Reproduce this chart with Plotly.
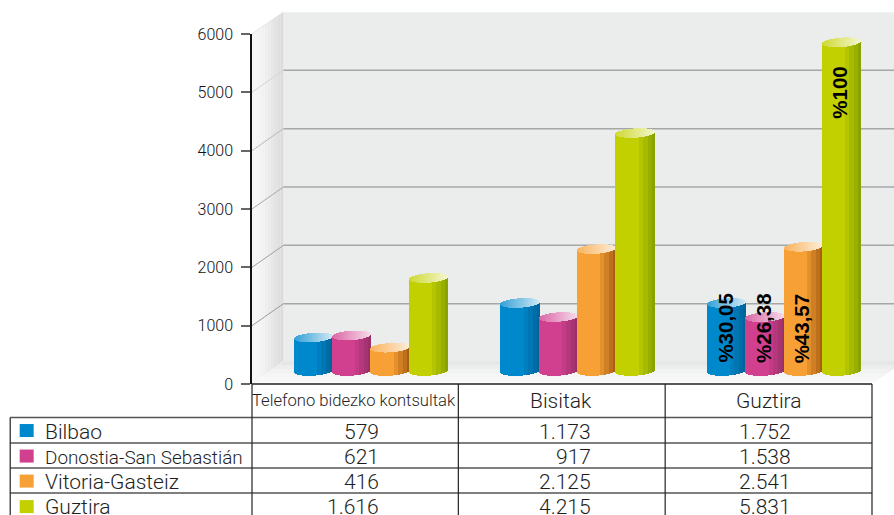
import plotly.graph_objects as go

# Values as drawn by the cylinders (the picture does not follow the table exactly)
CATEGORIES = ["Telefono bidezko kontsultak", "Bisitak", "Guztira"]
SERIES = ["Bilbao", "Donostia-San Sebastián", "Vitoria-Gasteiz", "Guztira"]
BILBAO = [575, 1166, 1166]
DONOSTIA = [610, 925, 925]
VITORIA = [400, 2090, 2130]
GUZTIRA = [1595, 4080, 5635]
VALUES = [BILBAO, DONOSTIA, VITORIA, GUZTIRA]

TABLE_ROWS = [
    ["579", "1.173", "1.752"],
    ["621", "917", "1.538"],
    ["416", "2.125", "2.541"],
    ["1.616", "4.215", "5.831"],
]
PERCENT_LABELS = ["%30,05", "%26,38", "%43,57", "%100"]
PERCENT_Y = [960, 960, 960, 4990]
Y_TICKS = [0, 1000, 2000, 3000, 4000, 5000, 6000]
GRID_LEVELS = [1000, 2000, 3000, 4000, 5000, 6000]
GRID_SIDE_COLORS = ["#9a9a9a", "#a0a0a0", "#a8a8a8", "#b8b8b8", "#d4d4d4", "#e4e4e4"]

BASE_COLORS = ["#0088cc", "#d1408f", "#f7a035", "#c2d000"]
DARK_COLORS = ["#00639a", "#993068", "#a85f14", "#8aa300"]

FONT = "Roboto"
BOLD_FONT = "Liberation Sans"
TEXT = "#1e1e1e"
W, H = 894, 515
LEFT, RIGHT, TOP, BOTTOM = 251.5, 872, 34.3, 384

BAR_W = 0.1857
SHIFT_X = 0.0754
BASE_LIFT = 223      # cylinders stand forward of the axis origin
CAP_RY = 80          # half height of the elliptic ends, in value units
TILT = 22            # ellipses lean up to the right
STRIPS = 38


def px(x):
    return (x - LEFT) / (RIGHT - LEFT)


def py(y):
    return (BOTTOM - y) / (BOTTOM - TOP)


def mix(c1, c2, t):
    a = [int(c1[i:i + 2], 16) for i in (1, 3, 5)]
    b = [int(c2[i:i + 2], 16) for i in (1, 3, 5)]
    return "rgb(%d,%d,%d)" % tuple(round(p + (q - p) * t) for p, q in zip(a, b))


def poly(points, color, layer="below"):
    path = "M" + "L".join(f"{px(x):.5f},{py(y):.5f}" for x, y in points) + "Z"
    return dict(type="path", xref="paper", yref="paper", path=path,
                fillcolor=color, line=dict(width=0), layer=layer)


def line(x0, y0, x1, y1, color, width, layer="above"):
    return dict(type="line", xref="paper", yref="paper",
                x0=px(x0), y0=py(y0), x1=px(x1), y1=py(y1),
                line=dict(color=color, width=width), layer=layer)


def note(x, y, text, size=21, anchor="center"):
    return dict(xref="paper", yref="paper", x=px(x), y=py(y), text=text,
                showarrow=False, xanchor=anchor, yanchor="middle",
                font=dict(family=FONT, size=size, color=TEXT, weight=300))


fig = go.Figure()

# cylinders: each one is a row of thin bars, shaded across its width
for s, series in enumerate(VALUES):
    xs, widths, body_base, body_h, body_col = [], [], [], [], []
    cap_base, cap_h, cap_col = [], [], []
    for g, val in enumerate(series):
        center = g + SHIFT_X + (s - 1.5) * BAR_W
        for k in range(STRIPS):
            u = (k + 0.5) / STRIPS
            r = 2 * u - 1
            e = CAP_RY * (1 - r * r) ** 0.5
            lean = TILT * r
            xs.append(center + (u - 0.5) * BAR_W)
            widths.append(BAR_W / STRIPS * 1.05)
            low = BASE_LIFT - e + lean
            high = BASE_LIFT + val - e + lean
            body_base.append(low)
            body_h.append(high - low)
            t = max(0.0, (u - 0.55) / 0.45)
            body_col.append(mix(BASE_COLORS[s], DARK_COLORS[s], round(t * 4) / 4))
            cap_base.append(high)
            cap_h.append(2 * e)
            cap_col.append(mix(BASE_COLORS[s], "#ffffff", 0.2 + 0.6 * u))
    fig.add_trace(go.Bar(x=xs, y=body_h, base=body_base, width=widths, name=SERIES[s],
                         marker=dict(color=body_col, line=dict(width=0)),
                         hoverinfo="skip", showlegend=False))
    fig.add_trace(go.Bar(x=xs, y=cap_h, base=cap_base, width=widths, name=SERIES[s],
                         marker=dict(color=cap_col, line=dict(width=0)),
                         hoverinfo="skip", showlegend=False))

# walls and floor
shapes = [poly([(283, 12.5), (W, 12.5), (W, 361), (283, 361)], "#ebeded")]
n_side = 10
for i in range(n_side):
    x0 = LEFT + (283 - LEFT) * i / n_side
    x1 = LEFT + (283 - LEFT) * (i + 1) / n_side
    t0 = (x0 - LEFT) / (283 - LEFT)
    t1 = (x1 - LEFT) / (283 - LEFT)
    shapes.append(poly([(x0, TOP - 21.8 * t0), (x1, TOP - 21.8 * t1),
                        (x1, BOTTOM - 23 * t1), (x0, BOTTOM - 23 * t0)],
                       mix("#f6f6f6", "#dadbdb", (i / (n_side - 1)) ** 1.5)))
bands = [361, 365, 369, 373, 377, 381, 384]
for i in range(len(bands) - 1):
    a, b = bands[i], bands[i + 1]
    xl = lambda y: LEFT + (BOTTOM - y) * 32 / 23
    xr = lambda y: min(W, RIGHT + (BOTTOM - y) * 22 / 15)
    shapes.append(poly([(xl(a), a), (xr(a), a), (xr(b), b), (xl(b), b)],
                       mix("#e6e7e7", "#fbfbfb", (i / (len(bands) - 2)) ** 0.7)))
for level, side in zip(GRID_LEVELS, GRID_SIDE_COLORS):
    y = BOTTOM - level * (BOTTOM - TOP) / 6000
    shapes.append(line(LEFT, y, 283, y - 22, side, 1, "below"))
    if level < 6000:
        shapes.append(line(283, y - 22, W, y - 22, "#a6a8a8", 1.5, "below"))

# data table
for y in [417.5, 443, 468, 493]:
    shapes.append(line(9.5, y, RIGHT, y, "#555555", 1.5))
shapes.append(line(LEFT, BOTTOM, RIGHT, BOTTOM, "#222222", 1.5))
shapes.append(line(9.5, 417.5, 9.5, H, "#222222", 1.2))
for x in [LEFT, 458, 665, RIGHT]:
    shapes.append(line(x, BOTTOM, x, H, "#222222", 1.2))
row_top = [424, 449.5, 474.5, 500]
for s, top in enumerate(row_top):
    shapes.append(poly([(19, top), (33, top), (33, top + 13), (19, top + 13)],
                       BASE_COLORS[s], "above"))

notes = [note(354, 400.5, CATEGORIES[0], 16.6),
         note(561, 400.5, CATEGORIES[1]),
         note(768.5, 400.5, CATEGORIES[2])]
row_mid = [432, 457, 482, 507]
legend_size = [21, 18.9, 21, 21]
col_right = [381, 593, 793]
for r, row in enumerate(TABLE_ROWS):
    notes.append(note(42, row_mid[r], SERIES[r], legend_size[r], "left"))
    for c, cell in enumerate(row):
        notes.append(note(col_right[c], row_mid[r], cell, 21, "right"))

for s, label in enumerate(PERCENT_LABELS):
    notes.append(dict(x=2 + SHIFT_X - 0.01 + (s - 1.5) * BAR_W, y=PERCENT_Y[s], xref="x", yref="y",
                      text=f"<b>{label}</b>", textangle=-90, showarrow=False,
                      font=dict(family=BOLD_FONT, size=20.5, color="#000000")))

fig.update_layout(
    width=W, height=H,
    margin=dict(l=LEFT, r=W - RIGHT, t=TOP, b=H - BOTTOM, pad=0, autoexpand=False),
    paper_bgcolor="#ffffff", plot_bgcolor="rgba(0,0,0,0)",
    barmode="overlay", bargap=0, bargroupgap=0, showlegend=False,
    shapes=shapes, annotations=notes,
    font=dict(family=FONT, color=TEXT),
    xaxis=dict(range=[-0.5, 2.5], showticklabels=False, ticks="", showgrid=False,
               zeroline=False, showline=False),
    yaxis=dict(range=[0, 6000], tickvals=Y_TICKS, ticks="outside", ticklen=9,
               tickcolor="#666666", tickwidth=1.5, showgrid=False, zeroline=False,
               showline=True, linecolor="#111111", linewidth=1.5,
               ticklabelstandoff=5,
               tickfont=dict(family=FONT, size=16, color="#111111", weight=300)),
)
fig.update_traces(cliponaxis=False)

fig.write_html("out.html", config=dict(displayModeBar=False),
               post_script="document.body.style.margin='0';document.body.style.overflow='hidden';")
